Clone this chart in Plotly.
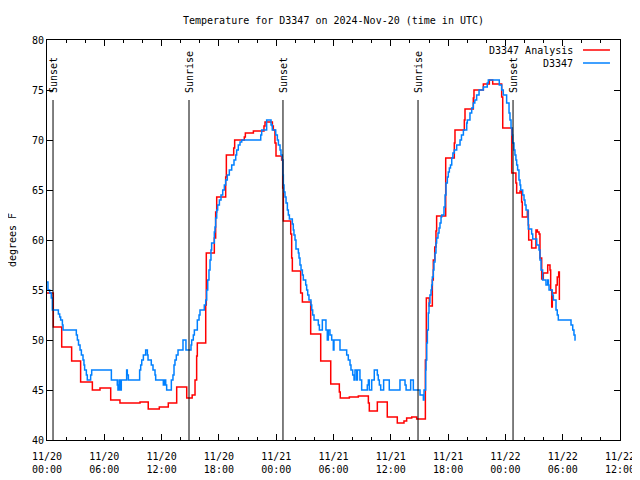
import pandas as pd
import plotly.graph_objects as go

BASE = pd.Timestamp("2024-11-20 00:00")

# Hours since 2024-11-20 00:00 UTC, and temperature (deg F), step data
analysis_hours = [0.0, 0.66, 1.54, 2.58, 3.52, 4.75, 5.55, 6.67, 7.64, 9.74, 10.6, 11.76, 12.7, 13.58,
                  14.63, 15.2, 15.5, 15.67, 15.74, 16.62, 16.68, 17.52, 17.66, 17.77, 18.71, 18.78,
                  19.55, 19.65, 20.66, 20.77, 21.61, 22.72, 22.83, 23.6, 23.7, 23.87, 23.98, 24.57,
                  24.68, 24.75, 25.52, 25.62, 25.69, 26.56, 26.74, 27.61, 28.66, 29.71, 30.61, 30.71,
                  31.66, 32.6, 33.65, 33.75, 34.59, 35.63, 36.68, 37.38, 37.66, 38.19, 38.71, 39.62,
                  39.72, 40.03, 40.35, 40.45, 40.6, 40.73, 40.8, 41.75, 42.65, 42.72, 43.7, 43.77,
                  44.64, 44.71, 45.69, 46.32, 46.67, 47.61, 47.72, 48.66, 49.1, 49.18, 49.53, 49.7,
                  49.77, 50.3, 50.4, 50.44, 50.75, 51.2, 51.35, 51.52, 51.62, 51.8, 51.97, 52.43,
                  52.67, 52.74, 52.85, 52.91, 53.3, 53.43, 53.58, 53.65]
analysis_temp = [54.7, 51.3, 49.3, 47.9, 45.8, 45.0, 45.2, 44.0, 43.7, 43.8, 43.1, 43.3, 43.7, 45.3,
                 44.2, 44.5, 46.0, 48.4, 49.7, 53.5, 58.7, 60.2, 62.8, 64.3, 66.3, 68.5,
                 69.2, 70.0, 70.3, 70.7, 70.9, 71.4, 71.8, 71.4, 71.0, 69.7, 68.4, 68.0,
                 65.2, 61.9, 60.6, 58.2, 56.9, 54.7, 53.8, 50.6, 47.9, 45.6, 44.8, 44.2,
                 44.3, 44.4, 43.7, 42.9, 43.8, 42.3, 41.7, 41.9, 42.2, 42.3, 42.1, 48.0,
                 54.2, 53.4, 56.0, 58.0, 59.3, 60.9, 62.4, 68.2, 69.7, 71.0, 72.0, 73.1,
                 74.2, 75.0, 75.6, 76.0, 75.6, 74.3, 71.2, 66.7, 65.7, 64.7, 64.9, 63.8,
                 62.3, 62.9, 61.5, 60.0, 59.2, 61.0, 60.8, 60.6, 58.2, 56.1, 56.7, 57.5,
                 57.0, 55.0, 53.3, 54.7, 55.5, 56.3, 56.8, 54.0]

station_hours = [0.0, 0.1, 0.28, 0.45, 0.56, 1.19, 1.33, 1.43, 1.61, 1.68, 3.07, 3.18, 3.3, 3.46,
                 3.6, 3.77, 3.87, 3.94, 4.12, 4.22, 4.57, 4.68, 6.74, 7.36, 7.43, 7.54, 7.64, 7.78,
                 8.34, 8.41, 8.52, 9.7, 9.81, 9.92, 10.09, 10.33, 10.51, 10.58, 10.92, 11.1, 11.31,
                 11.38, 12.18, 12.32, 12.43, 12.53, 13.02, 13.19, 13.3, 13.4, 13.54, 13.72, 14.24,
                 14.55, 15.08, 15.15, 15.32, 15.43, 15.74, 15.92, 16.02, 16.47, 16.62, 16.72, 16.83,
                 16.96, 17.07, 17.17, 17.24, 17.52, 17.59, 17.66, 17.77, 17.87, 18.05, 18.22, 18.4,
                 18.57, 18.71, 18.88, 19.09, 19.34, 19.58, 19.76, 19.86, 20.03, 20.21, 20.39, 22.38,
                 22.48, 23.0, 23.46, 23.59, 23.95, 24.12, 24.23, 24.4, 24.5, 24.64, 24.7, 24.75,
                 24.82, 24.92, 25.03, 25.17, 25.27, 25.38, 25.69, 25.79, 25.86, 25.97, 26.07, 26.32,
                 26.39, 26.49, 26.6, 26.74, 26.84, 27.09, 27.19, 27.3, 27.43, 27.64, 27.72, 27.82,
                 27.96, 28.41, 28.52, 28.83, 29.21, 29.35, 29.46, 29.63, 29.81, 29.98, 30.05, 30.68,
                 31.38, 31.55, 31.73, 31.83, 32.01, 32.15, 32.25, 32.43, 32.5, 32.77, 32.95, 33.54,
                 33.65, 33.75, 34.0, 34.27, 34.59, 34.69, 34.8, 34.94, 35.25, 35.84, 36.96, 37.49,
                 37.6, 38.08, 38.36, 39.06, 39.41, 39.48, 39.65, 39.69, 39.76, 39.83, 39.93, 40.0,
                 40.1, 40.21, 40.28, 40.35, 40.45, 40.52, 40.63, 40.73, 40.8, 40.94, 41.05, 41.15,
                 41.26, 41.33, 41.57, 41.68, 41.78, 41.92, 42.02, 42.13, 42.25, 42.38, 42.5, 42.65,
                 42.9, 43.25, 43.4, 43.6, 43.95, 44.01, 44.29, 44.47, 44.64, 44.8, 44.99, 45.24,
                 45.69, 46.1, 46.21, 47.36, 47.61, 47.78, 48.13, 48.38, 48.48, 48.59, 48.7, 48.76,
                 48.9, 49.0, 49.1, 49.18, 49.28, 49.42, 49.53, 49.6, 49.81, 49.95, 50.05, 50.16,
                 50.37, 50.4, 50.75, 50.86, 51.28, 51.52, 51.62, 51.73, 51.9, 52.25, 52.43, 52.5,
                 52.57, 52.91, 53.02, 53.3, 53.43, 53.54, 54.87, 55.05, 55.18, 55.29, 55.36]
station_temp = [55.8, 55.0, 54.7, 54.2, 53.0, 52.6, 52.3, 52.0, 51.5, 51.0, 50.5, 50.0, 49.5, 49.0,
                48.5, 48.0, 47.5, 47.0, 46.5, 46.0, 46.5, 47.0, 46.0, 45.5, 45.0, 46.0, 45.0, 46.0,
                47.0, 46.5, 46.0, 47.0, 47.5, 48.0, 48.5, 49.0, 48.5, 48.0, 47.5, 47.0, 46.5,
                46.0, 45.5, 46.0, 45.5, 45.0, 46.0, 46.5, 47.5, 48.0, 48.5, 49.0, 50.0,
                49.0, 49.5, 50.0, 50.5, 51.0, 52.0, 52.5, 53.0, 53.5, 54.0, 55.0, 56.0,
                57.0, 58.0, 59.0, 59.7, 60.8, 61.3, 62.2, 63.0, 63.5, 64.0, 64.5, 65.0,
                65.5, 66.0, 66.5, 67.0, 67.5, 68.0, 68.5, 69.0, 69.5, 69.8, 70.0, 70.5,
                71.0, 72.0, 71.5, 71.0, 70.5, 70.0, 69.5, 69.0, 68.5, 68.0, 66.5, 65.5,
                64.8, 64.3, 63.7, 63.0, 62.5, 62.1, 61.6, 61.0, 60.5, 60.0, 59.1, 58.7,
                58.2, 57.5, 57.0, 56.5, 56.0, 55.5, 55.0, 54.5, 54.0, 53.5, 53.0, 52.5,
                52.0, 51.5, 51.0, 52.0, 51.0, 50.0, 51.0, 50.5, 50.0, 49.0, 50.0, 49.0,
                48.5, 48.0, 47.5, 47.0, 46.5, 46.0, 47.0, 46.0, 47.0, 46.0, 45.0, 45.5,
                46.0, 45.0, 46.0, 47.0, 46.5, 46.0, 45.5, 45.0, 46.0, 45.0, 46.0, 45.5,
                45.0, 46.0, 45.0, 44.5, 44.0, 45.0, 47.0, 48.0, 49.7, 51.0, 52.7, 53.7,
                54.5, 55.0, 55.5, 56.3, 57.0, 57.8, 58.7, 59.7, 60.2, 60.7, 61.2, 61.7,
                62.3, 62.5, 63.3, 64.5, 65.7, 66.3, 66.8, 67.2, 67.5, 68.2, 68.7, 69.0,
                69.5, 70.0, 70.5, 71.0, 71.7, 72.0, 72.7, 73.2, 73.7, 74.0, 74.5, 75.0,
                75.3, 75.7, 76.0, 75.5, 75.0, 74.5, 73.7, 72.7, 72.0, 71.2, 70.5, 69.7,
                69.0, 68.5, 68.0, 67.5, 67.0, 66.0, 65.5, 65.0, 64.5, 64.0, 63.5, 63.0,
                62.1, 61.1, 60.6, 60.1, 59.5, 59.0, 58.0, 57.0, 56.0, 55.5, 56.0, 55.5,
                55.0, 54.5, 54.0, 53.0, 52.5, 52.0, 51.5, 51.0, 50.5, 50.0, 50.0]

sun_labels = ["Sunset", "Sunrise", "Sunset", "Sunrise", "Sunset"]
sun_hours = [0.63, 14.87, 24.71, 38.85, 48.8]

series_names = ["D3347 Analysis", "D3347"]
series_colors = ["#ff0000", "#0080ff"]


def to_time(hours):
    return [BASE + pd.Timedelta(hours=h) for h in hours]


FONT = "DejaVu Sans Mono"

fig = go.Figure()
fig.add_trace(go.Scatter(x=to_time(analysis_hours), y=analysis_temp, mode="lines",
                         line=dict(color=series_colors[0], width=1.5, shape="hv"),
                         name=series_names[0], showlegend=False))
fig.add_trace(go.Scatter(x=to_time(station_hours), y=station_temp, mode="lines",
                         line=dict(color=series_colors[1], width=1.5, shape="hv"),
                         name=series_names[1], showlegend=False))

shapes = []
annotations = []
for lab, h in zip(sun_labels, sun_hours):
    t = BASE + pd.Timedelta(hours=h)
    shapes.append(dict(type="line", xref="x", yref="y", x0=t, x1=t, y0=40, y1=74,
                       line=dict(color="black", width=1)))
    annotations.append(dict(x=t, y=74.5, xref="x", yref="y", text=lab, showarrow=False,
                            textangle=-90, xanchor="center", yanchor="bottom",
                            font=dict(family=FONT, size=10, color="black")))

# gnuplot-style key (text right, line sample on the right)
key_rows = [0.975, 0.9425]
for name, col, yy in zip(series_names, series_colors, key_rows):
    annotations.append(dict(x=0.9215, y=yy, xref="paper", yref="paper", text=name,
                            showarrow=False, xanchor="right", yanchor="middle",
                            font=dict(family=FONT, size=10, color="black")))
    shapes.append(dict(type="line", xref="paper", yref="paper", x0=0.9354, x1=0.9825,
                       y0=yy, y1=yy, line=dict(color=col, width=1.5)))

annotations.append(dict(x=-0.061, y=0.5, xref="paper", yref="paper", text="degrees F",
                        showarrow=False, textangle=-90, xanchor="center", yanchor="middle",
                        font=dict(family=FONT, size=10, color="black")))

# page body has an 8px offset; margins compensate so the plot frame lands at 47..620 x 40..440
fig.update_layout(
    width=640, height=480,
    margin=dict(l=39, r=28, t=32, b=48, pad=0),
    paper_bgcolor="white", plot_bgcolor="white",
    title=dict(text="Temperature for D3347 on 2024-Nov-20 (time in UTC)",
               x=325.5 / 640, xanchor="center", y=1 - 12 / 480, yanchor="middle",
               font=dict(family=FONT, size=10, color="black")),
    font=dict(family=FONT, size=10, color="black"),
    shapes=shapes, annotations=annotations,
    showlegend=False,
)
fig.update_xaxes(
    type="date",
    range=[BASE, BASE + pd.Timedelta(hours=60)],
    tickmode="linear", tick0=BASE, dtick=6 * 3600 * 1000,
    tickformat="%m/%d<br>%H:%M",
    ticks="inside", ticklen=6, tickcolor="black", tickwidth=1,
    ticklabelstandoff=7,
    minor=dict(dtick=2 * 3600 * 1000, ticks="inside", ticklen=3, tickcolor="black",
               showgrid=False),
    showline=True, linecolor="black", linewidth=1, mirror="ticks",
    showgrid=False, zeroline=False,
    tickfont=dict(family=FONT, size=10, color="black"),
)
fig.update_yaxes(
    range=[40, 80], tickmode="linear", tick0=40, dtick=5,
    ticks="inside", ticklen=6, tickcolor="black", tickwidth=1,
    showline=True, linecolor="black", linewidth=1, mirror="ticks",
    showgrid=False, zeroline=False,
    tickfont=dict(family=FONT, size=10, color="black"),
)

fig.write_html("out.html")
